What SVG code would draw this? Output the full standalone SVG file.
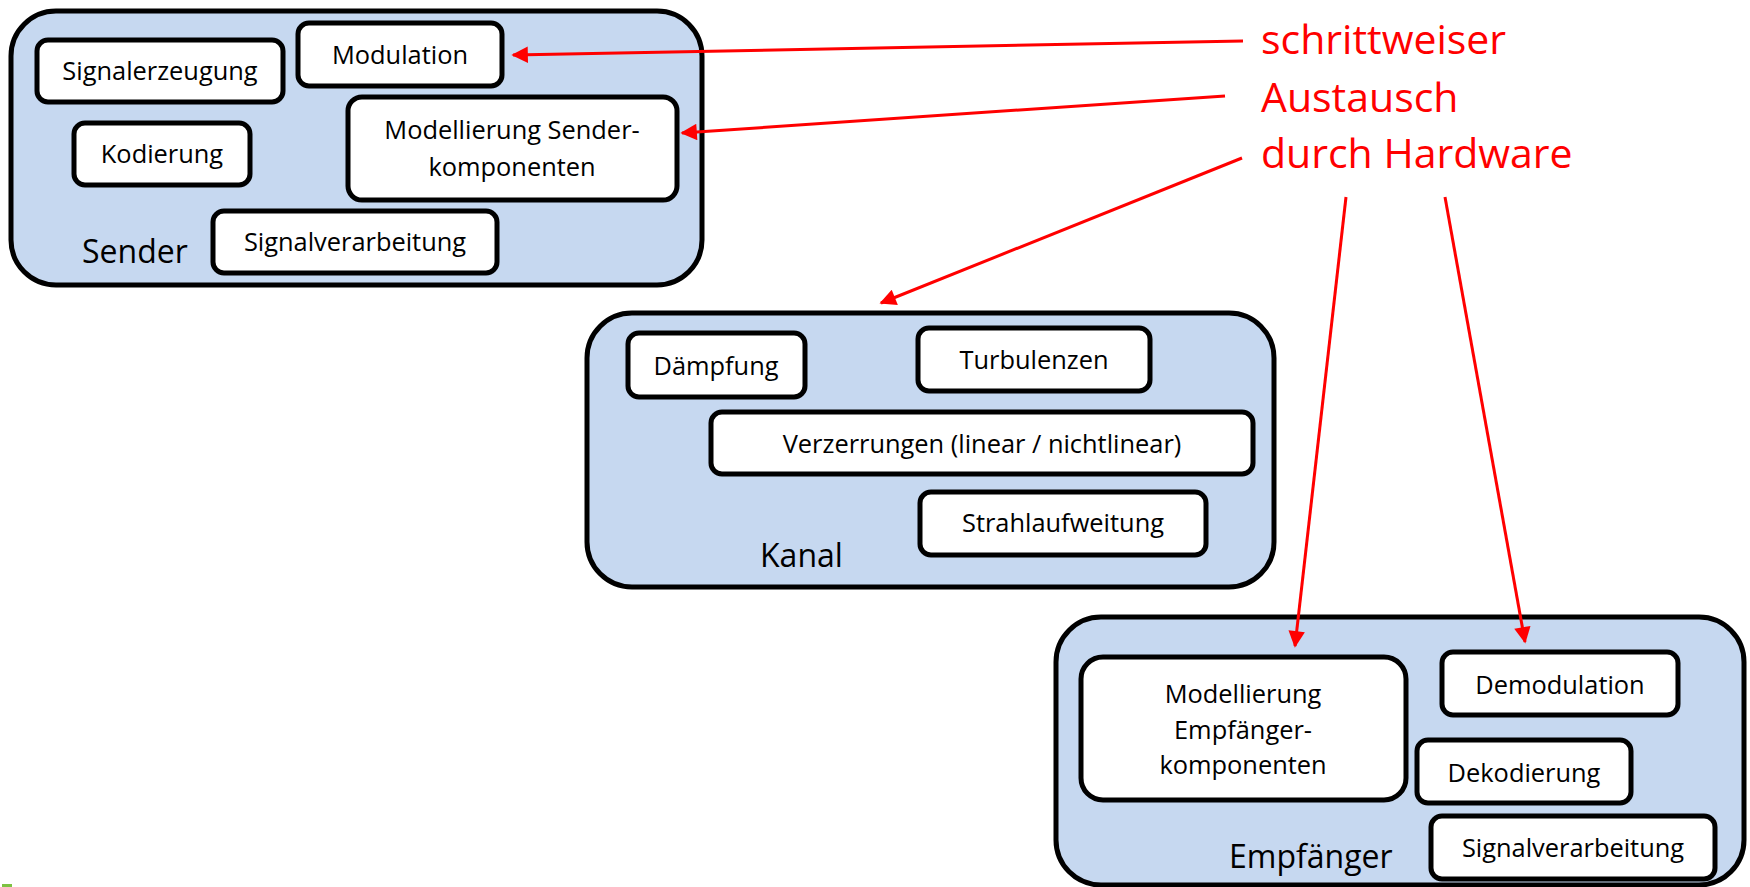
<svg xmlns="http://www.w3.org/2000/svg" width="1750" height="887" viewBox="0 0 1750 887">
<style>
.outer{fill:#C6D8F0;stroke:#000;stroke-width:5}
.box{fill:#fff;stroke:#000;stroke-width:5}
.t{font-family:"Open Sans","Noto Sans",sans-serif;font-size:25.4px;fill:#000;text-anchor:middle}
.lbl{font-family:"Open Sans","Noto Sans",sans-serif;font-size:32px;fill:#000}
.red{font-family:"Open Sans","Noto Sans",sans-serif;font-size:41px;fill:#FF0000}
.arr{stroke:#FF0000;stroke-width:3;fill:none;marker-end:url(#ah)}
</style>
<defs>
<marker id="ah" viewBox="0 0 10 10" refX="9" refY="5" markerWidth="6.5" markerHeight="5.5" markerUnits="strokeWidth" orient="auto">
<path d="M0,0 L10,5 L0,10 z" fill="#FF0000"/>
</marker>
</defs>
<rect x="0" y="0" width="1750" height="887" fill="#fff"/>
<g id="sender">
<rect class="outer" x="11" y="11" width="691" height="274" rx="45"/>
<text class="lbl" x="82" y="263">Sender</text>
</g>
<g id="signalerzeugung"><rect class="box" x="37" y="40" width="246" height="62" rx="11"/><text class="t" x="160" y="80">Signalerzeugung</text></g>
<g id="modulation"><rect class="box" x="298" y="23" width="204" height="63" rx="11"/><text class="t" x="400" y="64">Modulation</text></g>
<g id="kodierung"><rect class="box" x="74" y="123" width="176" height="62" rx="11"/><text class="t" x="162" y="163">Kodierung</text></g>
<g id="modellierung-sender"><rect class="box" x="348" y="97" width="329" height="103" rx="14"/><text class="t" x="512" y="139">Modellierung Sender-</text><text class="t" x="512" y="176">komponenten</text></g>
<g id="signalverarbeitung-sender"><rect class="box" x="213" y="211" width="284" height="62" rx="11"/><text class="t" x="355" y="251">Signalverarbeitung</text></g>

<g id="kanal">
<rect class="outer" x="587" y="313" width="687" height="274" rx="45"/>
<text class="lbl" x="760" y="567">Kanal</text>
</g>
<g id="daempfung"><rect class="box" x="628" y="333" width="177" height="64" rx="11"/><text class="t" x="716" y="375">Dämpfung</text></g>
<g id="turbulenzen"><rect class="box" x="918" y="328" width="232" height="63" rx="11"/><text class="t" x="1034" y="369">Turbulenzen</text></g>
<g id="verzerrungen"><rect class="box" x="711" y="412" width="542" height="62" rx="11"/><text class="t" x="982" y="453">Verzerrungen (linear / nichtlinear)</text></g>
<g id="strahlaufweitung"><rect class="box" x="920" y="492" width="286" height="63" rx="11"/><text class="t" x="1063" y="532">Strahlaufweitung</text></g>

<g id="empfaenger">
<rect class="outer" x="1056" y="617" width="688" height="268" rx="45"/>
<text class="lbl" x="1229" y="868">Empfänger</text>
</g>
<g id="modellierung-empfaenger"><rect class="box" x="1081" y="657" width="325" height="143" rx="22"/><text class="t" x="1243" y="703">Modellierung</text><text class="t" x="1243" y="739">Empfänger-</text><text class="t" x="1243" y="774">komponenten</text></g>
<g id="demodulation"><rect class="box" x="1442" y="652" width="236" height="63" rx="11"/><text class="t" x="1560" y="694">Demodulation</text></g>
<g id="dekodierung"><rect class="box" x="1417" y="740" width="214" height="63" rx="11"/><text class="t" x="1524" y="782">Dekodierung</text></g>
<g id="signalverarbeitung-empfaenger"><rect class="box" x="1431" y="816" width="284" height="63" rx="11"/><text class="t" x="1573" y="857">Signalverarbeitung</text></g>

<g id="hinweis">
<text class="red" x="1261" y="54">schrittweiser</text>
<text class="red" x="1261" y="112">Austausch</text>
<text class="red" x="1261" y="168">durch Hardware</text>
</g>

<g id="connectors">
<line class="arr" x1="1243" y1="41" x2="513" y2="55"/>
<line class="arr" x1="1225" y1="96" x2="682" y2="133"/>
<line class="arr" x1="1242" y1="158" x2="881" y2="303"/>
<line class="arr" x1="1346" y1="197" x2="1295" y2="646"/>
<line class="arr" x1="1445" y1="197" x2="1525" y2="642"/>
</g>
<rect x="2" y="884" width="10" height="3" fill="#7DC242"/>
</svg>
